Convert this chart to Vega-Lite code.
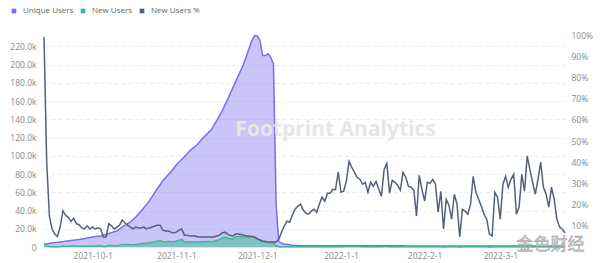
{
  "$schema": "https://vega.github.io/schema/vega-lite/v6.json",
  "width": 521,
  "height": 212,
  "autosize": {"type": "none"},
  "padding": {"left": 44, "top": 35, "right": 35, "bottom": 16},
  "background": "white",
  "config": {
    "view": {"stroke": null},
    "font": "Open Sans",
    "axis": {"labelFont": "Open Sans", "labelFontSize": 8.5, "labelColor": "#888888", "ticks": false, "domain": false, "title": null, "labelOverlap": false},
    "axisLeft": {"tickCount": 12, "labelOverlap": false},
    "legend": {"labelFont": "Open Sans", "labelFontSize": 8, "labelColor": "#666666"}
  },
  "datasets": {
    "main": [
      {"date":"2021-09-13","unique":3300,"new":3270,"pct":99},
      {"date":"2021-09-14","unique":3600,"new":1440,"pct":40},
      {"date":"2021-09-15","unique":4000,"new":580,"pct":14.5},
      {"date":"2021-09-16","unique":4400,"new":370,"pct":8.5},
      {"date":"2021-09-17","unique":4800,"new":290,"pct":6},
      {"date":"2021-09-18","unique":5100,"new":260,"pct":5},
      {"date":"2021-09-19","unique":5500,"new":520,"pct":9.5},
      {"date":"2021-09-20","unique":5900,"new":1000,"pct":17},
      {"date":"2021-09-21","unique":6300,"new":950,"pct":15},
      {"date":"2021-09-22","unique":6700,"new":940,"pct":14},
      {"date":"2021-09-23","unique":7100,"new":850,"pct":12},
      {"date":"2021-09-24","unique":7500,"new":1010,"pct":13.5},
      {"date":"2021-09-25","unique":7900,"new":870,"pct":11},
      {"date":"2021-09-26","unique":8300,"new":870,"pct":10.5},
      {"date":"2021-09-27","unique":8800,"new":790,"pct":9},
      {"date":"2021-09-28","unique":9300,"new":790,"pct":8.5},
      {"date":"2021-09-29","unique":9900,"new":990,"pct":10},
      {"date":"2021-09-30","unique":10400,"new":880,"pct":8.5},
      {"date":"2021-10-01","unique":11000,"new":1050,"pct":9.5},
      {"date":"2021-10-02","unique":11400,"new":970,"pct":8.5},
      {"date":"2021-10-03","unique":11800,"new":1060,"pct":9},
      {"date":"2021-10-04","unique":12100,"new":1030,"pct":8.5},
      {"date":"2021-10-05","unique":13000,"new":610,"pct":4.7},
      {"date":"2021-10-06","unique":13900,"new":650,"pct":4.7},
      {"date":"2021-10-07","unique":14900,"new":1640,"pct":11},
      {"date":"2021-10-08","unique":15800,"new":1580,"pct":10},
      {"date":"2021-10-09","unique":16700,"new":1420,"pct":8.5},
      {"date":"2021-10-10","unique":17600,"new":1650,"pct":9.4},
      {"date":"2021-10-11","unique":19800,"new":2040,"pct":10.3},
      {"date":"2021-10-12","unique":22000,"new":2790,"pct":12.7},
      {"date":"2021-10-13","unique":23800,"new":2690,"pct":11.3},
      {"date":"2021-10-14","unique":25600,"new":2640,"pct":10.3},
      {"date":"2021-10-15","unique":27500,"new":2590,"pct":9.4},
      {"date":"2021-10-16","unique":30200,"new":2570,"pct":8.5},
      {"date":"2021-10-17","unique":33000,"new":3100,"pct":9.4},
      {"date":"2021-10-18","unique":36300,"new":3270,"pct":9},
      {"date":"2021-10-19","unique":39600,"new":3560,"pct":9},
      {"date":"2021-10-20","unique":43000,"new":4040,"pct":9.4},
      {"date":"2021-10-21","unique":46800,"new":3980,"pct":8.5},
      {"date":"2021-10-22","unique":50600,"new":4550,"pct":9},
      {"date":"2021-10-23","unique":55000,"new":5170,"pct":9.4},
      {"date":"2021-10-24","unique":59500,"new":5890,"pct":9.9},
      {"date":"2021-10-25","unique":64000,"new":6590,"pct":10.3},
      {"date":"2021-10-26","unique":68300,"new":7030,"pct":10.3},
      {"date":"2021-10-27","unique":72600,"new":5810,"pct":8},
      {"date":"2021-10-28","unique":75900,"new":5690,"pct":7.5},
      {"date":"2021-10-29","unique":79200,"new":5940,"pct":7.5},
      {"date":"2021-10-30","unique":82500,"new":5780,"pct":7},
      {"date":"2021-10-31","unique":86200,"new":5690,"pct":6.6},
      {"date":"2021-11-01","unique":90000,"new":6300,"pct":7},
      {"date":"2021-11-02","unique":93000,"new":7440,"pct":8},
      {"date":"2021-11-03","unique":96000,"new":8160,"pct":8.5},
      {"date":"2021-11-04","unique":99000,"new":5540,"pct":5.6},
      {"date":"2021-11-05","unique":102300,"new":5730,"pct":5.6},
      {"date":"2021-11-06","unique":105600,"new":5490,"pct":5.2},
      {"date":"2021-11-07","unique":108000,"new":5620,"pct":5.2},
      {"date":"2021-11-08","unique":110500,"new":5750,"pct":5.2},
      {"date":"2021-11-09","unique":113000,"new":5310,"pct":4.7},
      {"date":"2021-11-10","unique":116500,"new":5480,"pct":4.7},
      {"date":"2021-11-11","unique":120000,"new":5640,"pct":4.7},
      {"date":"2021-11-12","unique":122900,"new":5780,"pct":4.7},
      {"date":"2021-11-13","unique":125800,"new":5910,"pct":4.7},
      {"date":"2021-11-14","unique":128700,"new":6050,"pct":4.7},
      {"date":"2021-11-15","unique":133600,"new":6280,"pct":4.7},
      {"date":"2021-11-16","unique":138600,"new":7210,"pct":5.2},
      {"date":"2021-11-17","unique":144100,"new":8070,"pct":5.6},
      {"date":"2021-11-18","unique":149600,"new":9870,"pct":6.6},
      {"date":"2021-11-19","unique":155600,"new":10890,"pct":7},
      {"date":"2021-11-20","unique":161700,"new":9860,"pct":6.1},
      {"date":"2021-11-21","unique":168300,"new":9090,"pct":5.4},
      {"date":"2021-11-22","unique":175000,"new":9100,"pct":5.2},
      {"date":"2021-11-23","unique":181500,"new":11070,"pct":6.1},
      {"date":"2021-11-24","unique":188000,"new":11470,"pct":6.1},
      {"date":"2021-11-25","unique":194500,"new":11470,"pct":5.9},
      {"date":"2021-11-26","unique":201000,"new":11260,"pct":5.6},
      {"date":"2021-11-27","unique":209500,"new":10890,"pct":5.2},
      {"date":"2021-11-28","unique":218000,"new":11340,"pct":5.2},
      {"date":"2021-11-29","unique":226600,"new":11100,"pct":4.9},
      {"date":"2021-11-30","unique":232000,"new":10900,"pct":4.7},
      {"date":"2021-12-01","unique":231500,"new":8800,"pct":3.8},
      {"date":"2021-12-02","unique":226600,"new":7480,"pct":3.3},
      {"date":"2021-12-03","unique":210000,"new":5880,"pct":2.8},
      {"date":"2021-12-04","unique":210000,"new":5460,"pct":2.6},
      {"date":"2021-12-05","unique":212000,"new":4880,"pct":2.3},
      {"date":"2021-12-06","unique":208000,"new":4780,"pct":2.3},
      {"date":"2021-12-07","unique":201000,"new":4620,"pct":2.3},
      {"date":"2021-12-08","unique":45000,"new":1030,"pct":2.3},
      {"date":"2021-12-09","unique":6000,"new":230,"pct":3.8},
      {"date":"2021-12-10","unique":4200,"new":290,"pct":7},
      {"date":"2021-12-11","unique":3400,"new":340,"pct":9.9},
      {"date":"2021-12-12","unique":3000,"new":370,"pct":12.2},
      {"date":"2021-12-13","unique":2500,"new":290,"pct":11.7},
      {"date":"2021-12-14","unique":1800,"new":270,"pct":15},
      {"date":"2021-12-15","unique":1600,"new":285,"pct":17.8},
      {"date":"2021-12-16","unique":1550,"new":298,"pct":19.2},
      {"date":"2021-12-17","unique":1500,"new":303,"pct":20.2},
      {"date":"2021-12-18","unique":1500,"new":261,"pct":17.4},
      {"date":"2021-12-19","unique":1450,"new":232,"pct":16},
      {"date":"2021-12-20","unique":1450,"new":225,"pct":15.5},
      {"date":"2021-12-21","unique":1400,"new":237,"pct":16.9},
      {"date":"2021-12-22","unique":1400,"new":249,"pct":17.8},
      {"date":"2021-12-23","unique":1400,"new":230,"pct":16.4},
      {"date":"2021-12-24","unique":1380,"new":279,"pct":20.2},
      {"date":"2021-12-25","unique":1380,"new":324,"pct":23.5},
      {"date":"2021-12-26","unique":1370,"new":296,"pct":21.6},
      {"date":"2021-12-27","unique":1370,"new":348,"pct":25.4},
      {"date":"2021-12-28","unique":1360,"new":345,"pct":25.4},
      {"date":"2021-12-29","unique":1360,"new":370,"pct":27.2},
      {"date":"2021-12-30","unique":1350,"new":365,"pct":27},
      {"date":"2021-12-31","unique":1350,"new":479,"pct":35.5},
      {"date":"2022-01-01","unique":1340,"new":346,"pct":25.8},
      {"date":"2022-01-02","unique":1340,"new":352,"pct":26.3},
      {"date":"2022-01-03","unique":1330,"new":412,"pct":31},
      {"date":"2022-01-04","unique":1330,"new":537,"pct":40.4},
      {"date":"2022-01-05","unique":1320,"new":496,"pct":37.6},
      {"date":"2022-01-06","unique":1320,"new":465,"pct":35.2},
      {"date":"2022-01-07","unique":1310,"new":431,"pct":32.9},
      {"date":"2022-01-08","unique":1310,"new":419,"pct":32},
      {"date":"2022-01-09","unique":1300,"new":385,"pct":29.6},
      {"date":"2022-01-10","unique":1300,"new":397,"pct":30.5},
      {"date":"2022-01-11","unique":1300,"new":335,"pct":25.8},
      {"date":"2022-01-12","unique":1290,"new":393,"pct":30.5},
      {"date":"2022-01-13","unique":1290,"new":369,"pct":28.6},
      {"date":"2022-01-14","unique":1280,"new":397,"pct":31},
      {"date":"2022-01-15","unique":1280,"new":348,"pct":27.2},
      {"date":"2022-01-16","unique":1270,"new":305,"pct":24},
      {"date":"2022-01-17","unique":1270,"new":465,"pct":36.6},
      {"date":"2022-01-18","unique":1260,"new":496,"pct":39.4},
      {"date":"2022-01-19","unique":1260,"new":320,"pct":25.4},
      {"date":"2022-01-20","unique":1250,"new":394,"pct":31.5},
      {"date":"2022-01-21","unique":1250,"new":381,"pct":30.5},
      {"date":"2022-01-22","unique":1250,"new":364,"pct":29.1},
      {"date":"2022-01-23","unique":1240,"new":332,"pct":26.8},
      {"date":"2022-01-24","unique":1240,"new":436,"pct":35.2},
      {"date":"2022-01-25","unique":1230,"new":405,"pct":32.9},
      {"date":"2022-01-26","unique":1230,"new":352,"pct":28.6},
      {"date":"2022-01-27","unique":1220,"new":344,"pct":28.2},
      {"date":"2022-01-28","unique":1220,"new":327,"pct":26.8},
      {"date":"2022-01-29","unique":1210,"new":177,"pct":14.6},
      {"date":"2022-01-30","unique":1210,"new":409,"pct":33.8},
      {"date":"2022-01-31","unique":1200,"new":326,"pct":27.2},
      {"date":"2022-02-01","unique":1200,"new":259,"pct":21.6},
      {"date":"2022-02-02","unique":1200,"new":366,"pct":30.5},
      {"date":"2022-02-03","unique":1190,"new":357,"pct":30},
      {"date":"2022-02-04","unique":1190,"new":380,"pct":31.9},
      {"date":"2022-02-05","unique":1180,"new":349,"pct":29.6},
      {"date":"2022-02-06","unique":1180,"new":194,"pct":16.4},
      {"date":"2022-02-07","unique":1170,"new":308,"pct":26.3},
      {"date":"2022-02-08","unique":1170,"new":99,"pct":8.5},
      {"date":"2022-02-09","unique":1160,"new":261,"pct":22.5},
      {"date":"2022-02-10","unique":1160,"new":229,"pct":19.7},
      {"date":"2022-02-11","unique":1150,"new":151,"pct":13.1},
      {"date":"2022-02-12","unique":1150,"new":286,"pct":24.9},
      {"date":"2022-02-13","unique":1150,"new":232,"pct":20.2},
      {"date":"2022-02-14","unique":1140,"new":54,"pct":4.7},
      {"date":"2022-02-15","unique":1140,"new":203,"pct":17.8},
      {"date":"2022-02-16","unique":1130,"new":191,"pct":16.9},
      {"date":"2022-02-17","unique":1130,"new":175,"pct":15.5},
      {"date":"2022-02-18","unique":1120,"new":226,"pct":20.2},
      {"date":"2022-02-19","unique":1120,"new":373,"pct":33.3},
      {"date":"2022-02-20","unique":1110,"new":286,"pct":25.8},
      {"date":"2022-02-21","unique":1110,"new":250,"pct":22.5},
      {"date":"2022-02-22","unique":1100,"new":211,"pct":19.2},
      {"date":"2022-02-23","unique":1100,"new":171,"pct":15.5},
      {"date":"2022-02-24","unique":1100,"new":144,"pct":13.1},
      {"date":"2022-02-25","unique":1090,"new":66,"pct":6.1},
      {"date":"2022-02-26","unique":1090,"new":57,"pct":5.2},
      {"date":"2022-02-27","unique":1080,"new":279,"pct":25.8},
      {"date":"2022-02-28","unique":1080,"new":254,"pct":23.5},
      {"date":"2022-03-01","unique":1070,"new":140,"pct":13.1},
      {"date":"2022-03-02","unique":1070,"new":317,"pct":29.6},
      {"date":"2022-03-03","unique":1060,"new":353,"pct":33.3},
      {"date":"2022-03-04","unique":1060,"new":299,"pct":28.2},
      {"date":"2022-03-05","unique":1050,"new":335,"pct":31.9},
      {"date":"2022-03-06","unique":1050,"new":360,"pct":34.3},
      {"date":"2022-03-07","unique":1050,"new":163,"pct":15.5},
      {"date":"2022-03-08","unique":1040,"new":196,"pct":18.8},
      {"date":"2022-03-09","unique":1040,"new":357,"pct":34.3},
      {"date":"2022-03-10","unique":1030,"new":271,"pct":26.3},
      {"date":"2022-03-11","unique":1030,"new":443,"pct":43},
      {"date":"2022-03-12","unique":1020,"new":373,"pct":36.6},
      {"date":"2022-03-13","unique":1020,"new":311,"pct":30.5},
      {"date":"2022-03-14","unique":1010,"new":251,"pct":24.9},
      {"date":"2022-03-15","unique":1010,"new":322,"pct":31.9},
      {"date":"2022-03-16","unique":1000,"new":400,"pct":40},
      {"date":"2022-03-17","unique":1000,"new":282,"pct":28.2},
      {"date":"2022-03-18","unique":1000,"new":249,"pct":24.9},
      {"date":"2022-03-19","unique":990,"new":186,"pct":18.8},
      {"date":"2022-03-20","unique":990,"new":279,"pct":28.2},
      {"date":"2022-03-21","unique":980,"new":221,"pct":22.5},
      {"date":"2022-03-22","unique":980,"new":128,"pct":13.1},
      {"date":"2022-03-23","unique":970,"new":91,"pct":9.4},
      {"date":"2022-03-24","unique":970,"new":82,"pct":8.5},
      {"date":"2022-03-25","unique":960,"new":63,"pct":6.6}
    ],
    "marks": [
      {"date":"2021-12-30","v":128000,"label":"Footprint Analytics","kind":"fp"},
      {"date":"2022-03-07","v":2000,"label":"金色财经","kind":"js"}
    ]
  },
  "layer": [
    {
      "layer": [
        {
          "data": {"name": "main"},
          "mark": {"type": "area", "fillOpacity": 0.4, "line": {"strokeWidth": 1.5}},
          "encoding": {
            "x": {"field": "date", "type": "temporal",
              "scale": {"type": "utc", "domain": [{"year":2021,"month":9,"date":13,"utc":true},{"year":2022,"month":3,"date":25,"utc":true}]},
              "axis": {"values": [{"year":2021,"month":10,"date":1,"utc":true},{"year":2021,"month":11,"date":1,"utc":true},{"year":2021,"month":12,"date":1,"utc":true},{"year":2022,"month":1,"date":1,"utc":true},{"year":2022,"month":2,"date":1,"utc":true},{"year":2022,"month":3,"date":1,"utc":true}],
                "labelExpr": "utcFormat(datum.value, '%Y-%-m-%-d')", "grid": false, "domain": true, "domainColor": "#e3e3e3", "labelPadding": 4}},
            "y": {"field": "unique", "type": "quantitative",
              "scale": {"domain": [0, 232600], "nice": false},
              "axis": {"orient": "left", "tickCount": 12, "values": [0,20000,40000,60000,80000,100000,120000,140000,160000,180000,200000,220000],
                "labelExpr": "datum.value == 0 ? '0' : format(datum.value/1000, '.1f') + 'k'",
                "labelOverlap": false, "labelSeparation": 0,
                "grid": true, "gridDash": [4, 3], "gridColor": "#ececec", "labelPadding": 8}},
            "color": {"datum": "Unique Users", "type": "nominal",
              "scale": {"domain": ["Unique Users", "New Users", "New Users %"], "range": ["#7b6cf0", "#3bb99a", "#55607d"]},
              "legend": {"orient": "none", "legendX": -34, "legendY": -28, "direction": "horizontal", "title": null,
                "symbolType": "square", "symbolSize": 22, "symbolOpacity": 1, "symbolStrokeWidth": 0,
                "labelOffset": 5, "columnPadding": 5,
                "encode": {"symbols": {"update": {"fillOpacity": {"value": 1}, "strokeWidth": {"value": 0}}}}}}
          }
        },
        {
          "data": {"name": "main"},
          "mark": {"type": "area", "fillOpacity": 0.5, "line": {"strokeWidth": 1.5}},
          "encoding": {
            "x": {"field": "date", "type": "temporal"},
            "y": {"field": "new", "type": "quantitative"},
            "color": {"datum": "New Users", "type": "nominal"}
          }
        },
        {
          "data": {"name": "marks"},
          "transform": [{"filter": "datum.kind == 'fp'"}],
          "mark": {"type": "text", "fontSize": 21, "fontWeight": "bold", "color": "#e6e6e6", "align": "center", "baseline": "middle", "font": "Open Sans"},
          "encoding": {
            "x": {"field": "date", "type": "temporal"},
            "y": {"field": "v", "type": "quantitative"},
            "text": {"field": "label"}
          }
        },
        {
          "data": {"name": "marks"},
          "transform": [{"filter": "datum.kind == 'js'"}],
          "mark": {"type": "text", "fontSize": 17, "color": "#c9c9c9", "stroke": "#9a9a9a", "strokeWidth": 0.4, "align": "left", "baseline": "middle", "font": "Noto Sans CJK SC"},
          "encoding": {
            "x": {"field": "date", "type": "temporal"},
            "y": {"field": "v", "type": "quantitative"},
            "text": {"field": "label"}
          }
        }
      ]
    },
    {
      "data": {"name": "main"},
      "mark": {"type": "line", "strokeWidth": 1.5},
      "encoding": {
        "x": {"field": "date", "type": "temporal"},
        "y": {"field": "pct", "type": "quantitative",
          "scale": {"domain": [0, 100], "nice": false},
          "axis": {"orient": "right", "values": [10,20,30,40,50,60,70,80,90,100], "labelExpr": "datum.value + '%'", "grid": false, "labelPadding": 6}},
        "color": {"datum": "New Users %", "type": "nominal"}
      }
    }
  ],
  "resolve": {"scale": {"y": "independent"}}
}
